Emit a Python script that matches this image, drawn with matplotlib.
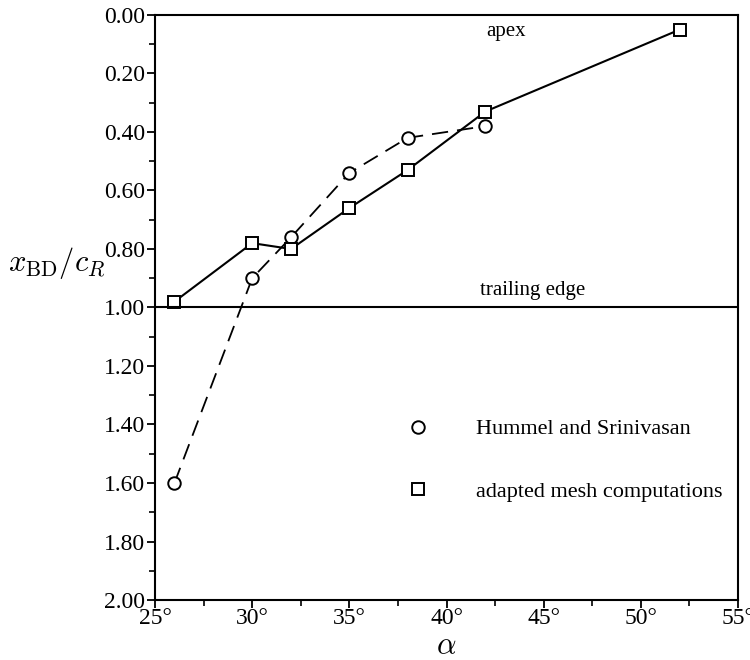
import matplotlib.pyplot as plt
from matplotlib.lines import Line2D
from matplotlib.ticker import MultipleLocator, FuncFormatter

# Datos
alpha_hs = [26, 30, 32, 35, 38, 42]
x_hs = [1.60, 0.90, 0.76, 0.54, 0.42, 0.38]
alpha_am = [26, 30, 32, 35, 38, 42, 52]
x_am = [0.98, 0.78, 0.80, 0.66, 0.53, 0.33, 0.05]
labels = ["Hummel and Srinivasan", "adapted mesh computations"]

plt.rcParams["font.family"] = ["Liberation Serif", "DejaVu Serif"]
plt.rcParams["mathtext.fontset"] = "cm"

fig = plt.figure(figsize=(7.5, 6.6), dpi=100)
ax = fig.add_axes([0.2067, 0.0909, 0.7773, 0.8864])

ax.plot(alpha_hs, x_hs, color="black", lw=1.3, dashes=(9, 5),
        marker="o", ms=9, mfc="white", mec="black", mew=1.4)
ax.plot(alpha_am, x_am, color="black", lw=1.5,
        marker="s", ms=9, mfc="white", mec="black", mew=1.4)

ax.axhline(1.0, color="black", lw=1.5)
ax.text(0.602, 0.988, "apex", transform=ax.transAxes, fontsize=15,
        ha="center", va="top")
ax.text(0.647, 0.512, "trailing edge", transform=ax.transAxes, fontsize=15,
        ha="center", va="bottom")

ax.set_xlim(25, 55)
ax.set_ylim(2.0, 0.0)
ax.xaxis.set_major_locator(MultipleLocator(5))
ax.xaxis.set_minor_locator(MultipleLocator(2.5))
ax.yaxis.set_major_locator(MultipleLocator(0.2))
ax.yaxis.set_minor_locator(MultipleLocator(0.1))
ax.xaxis.set_major_formatter(FuncFormatter(lambda v, p: f"{v:.0f}°"))
ax.yaxis.set_major_formatter(FuncFormatter(lambda v, p: f"{v:.2f}"))
ax.tick_params(axis="both", which="major", direction="out", length=6,
               width=1.3, labelsize=17)
ax.tick_params(axis="y", pad=1)
ax.tick_params(axis="both", which="minor", direction="out", length=4, width=1.2)
ax.tick_params(axis="x", pad=0)
for s in ax.spines.values():
    s.set_linewidth(1.5)

ax.set_xlabel(r"$\alpha$", fontsize=22, labelpad=0)
ax.xaxis.set_label_coords(0.5, -0.055)
ax.set_ylabel(r"$x_{\rm BD}/c_R$", fontsize=22, rotation=0)
ax.yaxis.set_label_coords(-0.168, 0.545)

handles = [Line2D([], [], ls="none", marker="o", ms=9, mfc="white", mec="black", mew=1.4),
           Line2D([], [], ls="none", marker="s", ms=9, mfc="white", mec="black", mew=1.4)]
ax.legend(handles, labels, loc="upper left", bbox_to_anchor=(0.398, 0.325),
          frameon=False, fontsize=16, labelspacing=1.9, handletextpad=1.6,
          borderaxespad=0)

fig.savefig("out.png", dpi=100)
